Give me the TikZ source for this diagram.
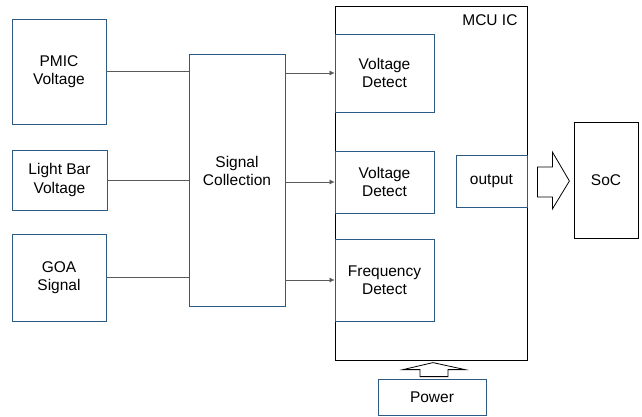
\documentclass[tikz,border=0pt]{standalone}
\usepackage{fontspec}
\setmainfont{Liberation Sans}
\usepackage{tikz}
\usetikzlibrary{positioning, arrows.meta}

\definecolor{boxblue}{RGB}{45,90,130}
\definecolor{wiregray}{RGB}{90,90,90}

\begin{document}
\begin{tikzpicture}[x=1pt, y=-1pt, >={Latex[length=5pt,width=5pt]},
    font=\fontsize{15.5}{18.5}\selectfont,
    blk/.style={draw=boxblue, thick, align=center, inner sep=0pt},
    chip/.style={draw=black, thick, inner sep=0pt},
    wire/.style={draw=wiregray, semithick}]
    \useasboundingbox (0,0) rectangle (642,416);

    % inputs
    \node[blk, minimum width=94, minimum height=105] (pmic) at (59,71.5) {PMIC\\Voltage};
    \node[blk, minimum width=95, minimum height=60] (lbar) at (59.5,180) {Light Bar\\Voltage};
    \node[blk, minimum width=94, minimum height=87] (goa) at (59,277.5) {GOA\\Signal};
    \node[blk, minimum width=96, minimum height=252] (coll) at (237,180) {Signal\\Collection\\[0pt]};

    % MCU
    \node[chip, minimum width=192, minimum height=354] (mcu) at (431,183) {};
    \node[anchor=north east] (mcutxt) at (521,11) {MCU IC};
    \node[blk, minimum width=99, minimum height=78] (vd1) at (384.5,73) {Voltage\\Detect};
    \node[blk, minimum width=99, minimum height=62] (vd2) at (384.5,182) {Voltage\\Detect};
    \node[blk, minimum width=99, minimum height=82] (fd) at (384.5,280) {Frequency\\Detect};
    \node[blk, minimum width=71, minimum height=52] (out) at (491.5,181) {output};

    \node[chip, minimum width=64, minimum height=116] (soc) at (606,180) {SoC};
    \node[blk, minimum width=108, minimum height=36] (pwr) at (432,397) {Power};

    % wires
    \draw[wire] (pmic.east) -- (pmic.east -| coll.west);
    \draw[wire] (lbar.east) -- (lbar.east -| coll.west);
    \draw[wire] (goa.east) -- (goa.east -| coll.west);
    \draw[wire, ->] (coll.east |- vd1.west) -- (vd1.west);
    \draw[wire, ->] (coll.east |- vd2.west) -- (vd2.west);
    \draw[wire, ->] (coll.east |- fd.west) -- (fd.west);

    % block arrows
    \draw[thick] (out.east) ++(10,-14) -- ++(15,0) -- ++(0,-15) -- ++(17,29)
        -- ++(-17,28) -- ++(0,-12) -- ++(-15,0) -- cycle;
    \draw[thick] (pwr.north) ++(-12,-2) -- ++(0,-7) -- ++(-17,0) -- ++(30,-7)
        -- ++(32,7) -- ++(-17,0) -- ++(0,7) -- cycle;
\end{tikzpicture}
\end{document}
